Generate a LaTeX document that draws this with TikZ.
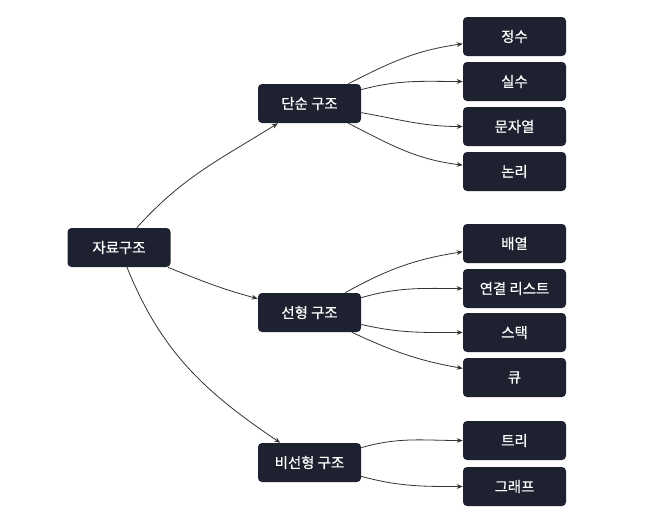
\documentclass[tikz,border=0pt]{standalone}
\usepackage{fontspec}
\setmainfont{Noto Sans CJK KR}
\newfontfamily\boxfont{Noto Sans CJK KR}[FakeBold=0.6]
\usetikzlibrary{arrows.meta}
\definecolor{boxfill}{HTML}{1E2230}
\definecolor{edgegray}{HTML}{333333}
\begin{document}
\begin{tikzpicture}[x=0.75pt,y=0.75pt]
		\tikzstyle{box}=[fill=boxfill, rounded corners=3pt, minimum width=77.25pt, minimum height=29.25pt, inner sep=0pt, text=white, font=\boxfont\fontsize{10.8}{13}\selectfont]
		\tikzstyle{edge}=[draw=edgegray, line width=0.6pt, -{Stealth[length=4.5pt,width=3.6pt]}]
		\useasboundingbox (0,0) rectangle (652,-515);
		% root and groups
		\node [box] (root) at (119,-247.5) {자료구조};
		\node [box] (simple) at (309.5,-103.5) {단순 구조};
		\node [box] (linear) at (309.5,-312.5) {선형 구조};
		\node [box] (nonlinear) at (309.5,-462.5) {비선형 구조};
		% leaves
		\node [box] (int) at (514.5,-36.5) {정수};
		\node [box] (real) at (514.5,-81.5) {실수};
		\node [box] (str) at (514.5,-126.5) {문자열};
		\node [box] (bool) at (514.5,-171.5) {논리};
		\node [box] (array) at (514.5,-243.5) {배열};
		\node [box] (list) at (514.5,-288.5) {연결 리스트};
		\node [box] (stack) at (514.5,-332.5) {스택};
		\node [box] (queue) at (514.5,-377.5) {큐};
		\node [box] (tree) at (514.5,-440.5) {트리};
		\node [box] (graph) at (514.5,-486.5) {그래프};
		% edges
		\draw [edge] (root) to [out=48,in=212] (simple);
		\draw [edge] (root) to [out=-22,in=165] (linear);
		\draw [edge] (root) to [out=-68,in=146] (nonlinear);
		\draw [edge] (simple) to [out=27,in=188] (int);
		\draw [edge] (simple) to [out=15,in=180] (real);
		\draw [edge] (simple) to [out=-10,in=180] (str);
		\draw [edge] (simple) to [out=-27,in=173] (bool);
		\draw [edge] (linear) to [out=29,in=189] (array);
		\draw [edge] (linear) to [out=16,in=180] (list);
		\draw [edge] (linear) to [out=-13,in=180] (stack);
		\draw [edge] (linear) to [out=-25,in=170] (queue);
		\draw [edge] (nonlinear) to [out=16,in=180] (tree);
		\draw [edge] (nonlinear) to [out=-15,in=180] (graph);
\end{tikzpicture}
\end{document}
